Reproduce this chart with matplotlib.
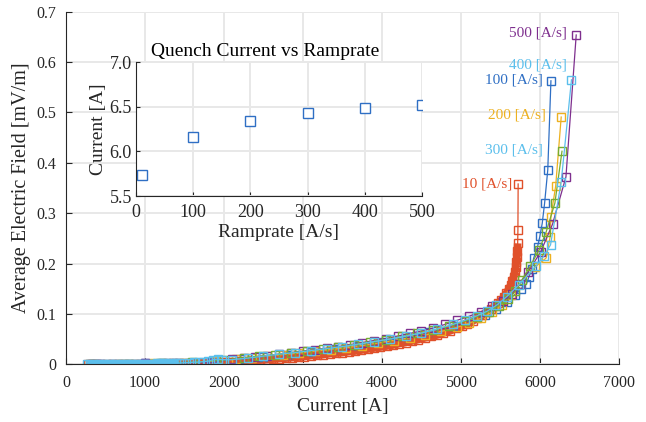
import matplotlib.pyplot as plt

plt.rcParams['font.family'] = ['Liberation Serif', 'DejaVu Serif']

# ramp rate series: current [A] vs average electric field [mV/m]
i_100 = [300, 600, 1000, 1400, 1800, 2200, 2500, 2800, 3100, 3400,
         3700, 4000, 4300, 4600, 4900, 5100, 5300, 5450, 5580, 5680,
         5760, 5830, 5860, 5900, 5920, 5970, 6000, 6030, 6060, 6100, 6140]
e_100 = [0.000, 0.001, 0.002, 0.003, 0.005, 0.010, 0.014, 0.019, 0.024, 0.030,
         0.037, 0.045, 0.053, 0.063, 0.075, 0.085, 0.098, 0.110, 0.124, 0.138,
         0.150, 0.159, 0.173, 0.190, 0.210, 0.233, 0.254, 0.280, 0.320, 0.386, 0.563]

i_10 = [280, 330, 390, 450, 520, 590, 660, 730, 800, 870,
        940, 1010, 1080, 1150, 1220, 1290, 1360, 1430, 1500,
        1580, 1660, 1740, 1820, 1900, 1980, 2060, 2140, 2220, 2300,
        2380, 2460, 2540, 2620, 2700, 2780, 2860, 2940, 3020,
        3100, 3180, 3260, 3340, 3420, 3500, 3580, 3660, 3740, 3820,
        3900, 3980, 4060, 4140, 4220, 4300, 4380, 4460, 4540, 4620, 4700,
        4780, 4860, 4940, 5010, 5080, 5150, 5210, 5270, 5330, 5380,
        5430, 5470, 5510, 5545, 5575, 5605, 5630, 5650, 5668, 5682,
        5694, 5703, 5710, 5715, 5719, 5722, 5725]
e_10 = [0.000, 0.000, 0.000, 0.000, 0.000, 0.000, 0.001, 0.001, 0.001, 0.001,
        0.001, 0.001, 0.001, 0.001, 0.002, 0.002, 0.002, 0.002, 0.002,
        0.002, 0.003, 0.003, 0.003, 0.004, 0.004, 0.005, 0.005, 0.006, 0.007,
        0.007, 0.008, 0.009, 0.010, 0.011, 0.012, 0.013, 0.014, 0.015,
        0.017, 0.018, 0.019, 0.021, 0.022, 0.023, 0.025, 0.026, 0.028, 0.030,
        0.032, 0.034, 0.036, 0.038, 0.041, 0.043, 0.046, 0.049, 0.052, 0.055, 0.058,
        0.062, 0.066, 0.071, 0.075, 0.080, 0.086, 0.091, 0.097, 0.103, 0.109,
        0.115, 0.121, 0.127, 0.134, 0.141, 0.149, 0.157, 0.165, 0.174, 0.183,
        0.193, 0.203, 0.213, 0.224, 0.240, 0.266, 0.358]

i_200 = [300, 700, 1100, 1500, 1900, 2150, 2350, 2550, 2750, 2950,
         3150, 3350, 3550, 3750, 3950, 4150, 4350, 4550, 4750, 4950,
         5100, 5250, 5400, 5520, 5640, 5750, 5940, 6080, 6130, 6140,
         6200, 6270]
e_200 = [0.000, 0.001, 0.002, 0.003, 0.006, 0.010, 0.013, 0.016, 0.019, 0.022,
         0.026, 0.029, 0.033, 0.037, 0.042, 0.047, 0.052, 0.058, 0.065, 0.073,
         0.081, 0.091, 0.104, 0.118, 0.137, 0.160, 0.193, 0.211, 0.253, 0.293,
         0.354, 0.491]

i_500 = [330, 380, 430, 1000, 1850, 2100, 2250, 2400, 2550, 2700,
         2850, 3000, 3150, 3300, 3450, 3600, 3750, 3900, 4050, 4200,
         4350, 4500, 4650, 4800, 4950, 5100, 5250, 5400, 5530, 5650,
         5750, 5850, 6010, 6160, 6330, 6460]
e_500 = [0.000, 0.000, 0.000, 0.002, 0.003, 0.010, 0.012, 0.014, 0.017, 0.020,
         0.023, 0.026, 0.029, 0.032, 0.035, 0.039, 0.043, 0.047, 0.051, 0.056,
         0.061, 0.066, 0.072, 0.079, 0.087, 0.095, 0.104, 0.115, 0.126, 0.140,
         0.160, 0.183, 0.223, 0.278, 0.372, 0.654]

i_300 = [350, 800, 1200, 1600, 2000, 2250, 2450, 2650, 2850, 3050,
         3250, 3450, 3650, 3850, 4050, 4250, 4450, 4650, 4850, 5050,
         5200, 5350, 5480, 5600, 5690, 5770, 5880, 5990, 6080, 6190, 6280]
e_300 = [0.000, 0.001, 0.002, 0.004, 0.008, 0.013, 0.016, 0.019, 0.023, 0.026,
         0.030, 0.034, 0.039, 0.044, 0.049, 0.055, 0.061, 0.068, 0.076, 0.085,
         0.094, 0.104, 0.116, 0.130, 0.145, 0.167, 0.195, 0.227, 0.263, 0.320, 0.423]

i_400 = [270, 310, 350, 390, 430, 470, 510, 550, 590, 630,
         670, 710, 750, 790, 830, 870, 910, 950, 990, 1030,
         1070, 1110, 1150, 1190, 1230, 1270, 1310, 1350, 1390, 1430,
         1500, 1560, 1620, 1680, 1740, 1800, 1860, 1920, 1980,
         2100, 2300, 2500, 2700, 2900, 3100, 3300, 3500, 3700, 3900,
         4100, 4300, 4500, 4700, 4900, 5050, 5200, 5330, 5450, 5580,
         5730, 5950, 6050, 6135, 6270, 6400]
e_400 = [0.000, 0.000, 0.000, 0.000, 0.000, 0.000, 0.000, 0.000, 0.000, 0.000,
         0.001, 0.001, 0.001, 0.001, 0.001, 0.001, 0.001, 0.001, 0.001, 0.001,
         0.001, 0.001, 0.002, 0.002, 0.002, 0.002, 0.002, 0.002, 0.002, 0.002,
         0.003, 0.003, 0.004, 0.004, 0.005, 0.006, 0.009, 0.010, 0.009,
         0.009, 0.012, 0.016, 0.020, 0.023, 0.027, 0.031, 0.035, 0.040, 0.045,
         0.050, 0.056, 0.062, 0.070, 0.079, 0.087, 0.096, 0.105, 0.117, 0.134,
         0.157, 0.195, 0.215, 0.237, 0.362, 0.565]

# quench current [kA] vs ramprate
ramprates = [10, 100, 200, 300, 400, 500]
quench_current = [5.74, 6.16, 6.34, 6.43, 6.49, 6.52]

c_blue, c_red, c_yel = '#2F6FC4', '#E0502A', '#EDB120'
c_pur, c_grn, c_lbl = '#7E2F8E', '#77AC30', '#5BBFEC'

series = [
    (i_100, e_100, c_blue),
    (i_10, e_10, c_red),
    (i_200, e_200, c_yel),
    (i_500, e_500, c_pur),
    (i_300, e_300, c_grn),
    (i_400, e_400, c_lbl),
]
labels = [
    ('500 [A/s]', 6342, 0.658, c_pur),
    ('400 [A/s]', 6342, 0.594, c_lbl),
    ('100 [A/s]', 6040, 0.565, c_blue),
    ('200 [A/s]', 6076, 0.495, c_yel),
    ('300 [A/s]', 6040, 0.425, c_lbl),   # drawn light blue in the original
    ('10 [A/s]', 5646, 0.358, c_red),
]

txt = '#262626'
fig = plt.figure(figsize=(6.46, 4.22), dpi=100)
ax = fig.add_axes([0.102, 0.137, 0.856, 0.835])

for x, y, c in series:
    ax.plot(x, y, color=c, lw=0.9, marker='s', ms=5.5, mfc='none', mec=c, mew=1.0)
    if c == c_red:
        # the 10 A/s record is so dense that its markers merge into a band
        ax.plot(x[:-2], y[:-2], color=c, lw=5.5, solid_capstyle='butt', zorder=1.9)
    if c == c_lbl:
        ax.plot(x[:30], y[:30], color=c, lw=5.5, solid_capstyle='butt', zorder=2.1)

for lab, lx, ly, c in labels:
    ax.text(lx, ly, lab, color=c, fontsize=11, ha='right', va='center')

ax.set_xlim(0, 7000)
ax.set_ylim(0, 0.7)
ax.set_xticks(range(0, 7001, 1000))
ax.set_yticks([0, 0.1, 0.2, 0.3, 0.4, 0.5, 0.6, 0.7])
ax.set_yticklabels(['0', '0.1', '0.2', '0.3', '0.4', '0.5', '0.6', '0.7'])
ax.grid(True, color='#e8e8e8', lw=1.4)
ax.set_axisbelow(True)
for s in ['top', 'right']:
    ax.spines[s].set_visible(False)
for s in ['left', 'bottom']:
    ax.spines[s].set_color(txt)
    ax.spines[s].set_linewidth(0.8)
ax.tick_params(direction='in', length=4, colors=txt, labelsize=11.5, width=0.8)
ax.tick_params(axis='x', pad=8)
ax.tick_params(axis='y', pad=7)
ax.set_xlabel('Current [A]', fontsize=14, color=txt, labelpad=5)
ax.set_ylabel('Average Electric Field [mV/m]', fontsize=14.5, color=txt, labelpad=4)

# inset
ins = fig.add_axes([0.2105, 0.5355, 0.4427, 0.3168])
ins.plot(ramprates, quench_current, ls='none', marker='s', ms=6.5,
         mfc='white', mec=c_blue, mew=1.0)
ins.set_xlim(0, 500)
ins.set_ylim(5.5, 7.0)
ins.set_xticks([0, 100, 200, 300, 400, 500])
ins.set_yticks([5.5, 6.0, 6.5, 7.0])
ins.set_yticklabels(['5.5', '6.0', '6.5', '7.0'])
ins.grid(True, color='#e8e8e8', lw=1.4)
ins.set_axisbelow(True)
for s in ['top', 'right']:
    ins.spines[s].set_visible(False)
for s in ['left', 'bottom']:
    ins.spines[s].set_color(txt)
    ins.spines[s].set_linewidth(0.8)
ins.tick_params(direction='in', length=3, colors=txt, labelsize=13, width=0.8)
ins.tick_params(axis='x', pad=6)
ins.tick_params(axis='y', pad=3)
ins.text(0.451, 1.047, 'Quench Current vs Ramprate', transform=ins.transAxes,
         fontsize=14, color='black', ha='center', va='baseline')
ins.set_xlabel('Ramprate [A/s]', fontsize=14, color=txt, labelpad=2)
ins.set_ylabel('Current [A]', fontsize=14, color=txt, labelpad=2)

fig.savefig('out.png', dpi=100)
